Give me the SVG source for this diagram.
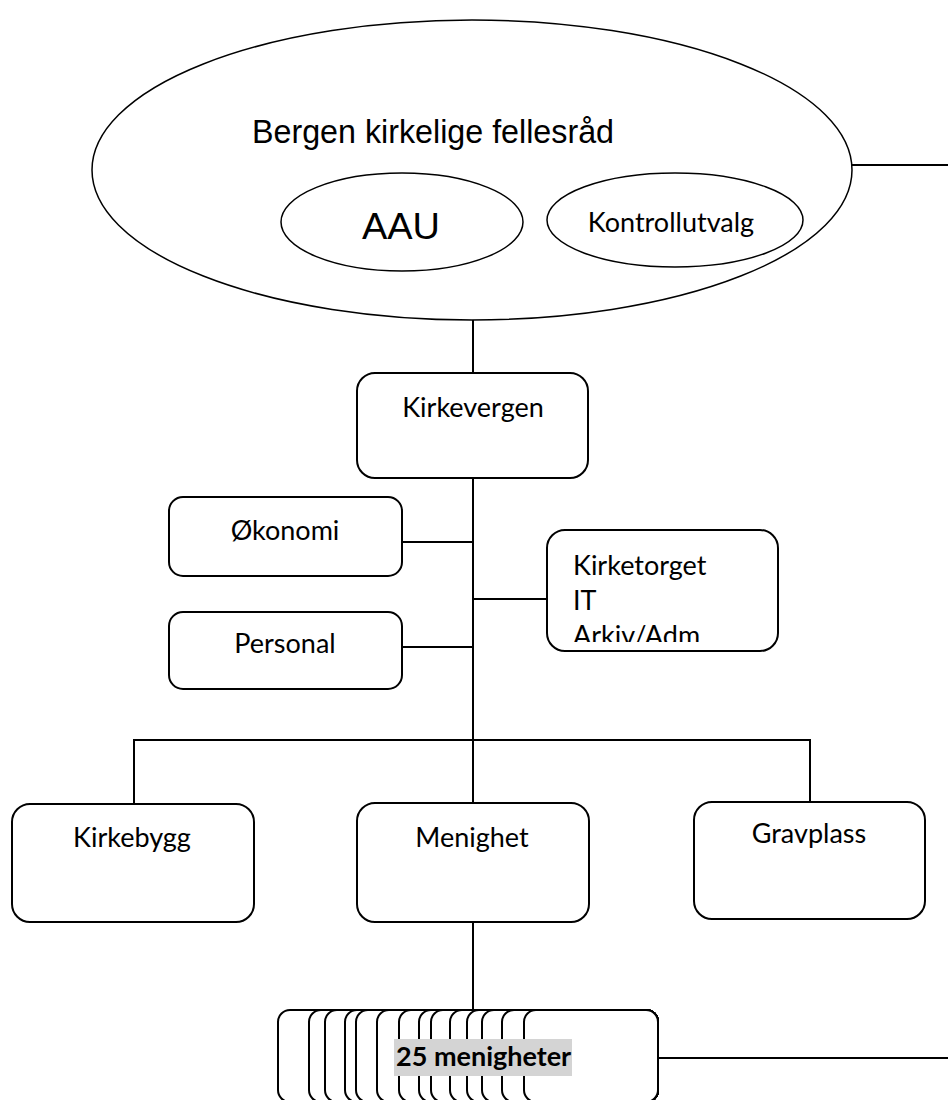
<svg xmlns="http://www.w3.org/2000/svg" width="948" height="1100" viewBox="0 0 948 1100">
<style>
.shape{fill:#fff;stroke:#000;stroke-width:2}
.ell{fill:#fff;stroke:#000;stroke-width:1.5}
.line{stroke:#000;stroke-width:2;fill:none}
.t{font-family:Lato,"Liberation Sans",sans-serif;font-size:27px;fill:#000}
.a{font-family:"Liberation Sans",Arial,sans-serif;fill:#000}
</style>
<defs>
<clipPath id="clipKT"><rect x="548" y="531" width="229" height="111"/></clipPath>
</defs>
<rect width="948" height="1100" fill="#fff"/>
<g id="connectors">
<line class="line" x1="852" y1="165" x2="948" y2="165"/>
<line class="line" x1="473" y1="320" x2="473" y2="373"/>
<line class="line" x1="473" y1="478" x2="473" y2="803"/>
<line class="line" x1="402" y1="542" x2="473" y2="542"/>
<line class="line" x1="402" y1="647" x2="473" y2="647"/>
<line class="line" x1="473" y1="599" x2="547" y2="599"/>
<polyline class="line" points="134,804 134,740 810,740 810,802"/>
<line class="line" x1="473" y1="922" x2="473" y2="1010"/>
<line class="line" x1="658" y1="1058" x2="948" y2="1058"/>
</g>
<g id="fellesrad">
<ellipse class="ell" cx="472" cy="170" rx="380" ry="150"/>
<text class="a" x="252" y="143" font-size="34" textLength="362" lengthAdjust="spacingAndGlyphs">Bergen kirkelige fellesråd</text>
</g>
<g id="aau">
<ellipse class="ell" cx="402" cy="222" rx="121" ry="49"/>
<text class="a" x="401" y="239" font-size="37" textLength="78" lengthAdjust="spacingAndGlyphs" text-anchor="middle">AAU</text>
</g>
<g id="kontrollutvalg">
<ellipse class="ell" cx="675" cy="220" rx="128" ry="47"/>
<text class="t" x="671" y="232" text-anchor="middle">Kontrollutvalg</text>
</g>
<g id="kirkevergen">
<rect class="shape" x="357" y="373" width="231" height="105" rx="18"/>
<text class="t" x="473" y="417" text-anchor="middle">Kirkevergen</text>
</g>
<g id="okonomi">
<rect class="shape" x="169" y="497" width="233" height="79" rx="14"/>
<text class="t" x="285" y="540" text-anchor="middle">Økonomi</text>
</g>
<g id="personal">
<rect class="shape" x="169" y="612" width="233" height="77" rx="14"/>
<text class="t" x="285" y="653" text-anchor="middle">Personal</text>
</g>
<g id="kirketorget">
<rect class="shape" x="547" y="530" width="231" height="121" rx="18"/>
<g clip-path="url(#clipKT)">
<text class="t" x="573" y="575">Kirketorget</text>
<text class="t" x="573" y="610">IT</text>
<text class="t" x="573" y="645">Arkiv/Adm</text>
</g>
</g>
<g id="kirkebygg">
<rect class="shape" x="12" y="804" width="242" height="118" rx="18"/>
<text class="t" x="132" y="847" text-anchor="middle">Kirkebygg</text>
</g>
<g id="menighet">
<rect class="shape" x="357" y="803" width="232" height="119" rx="18"/>
<text class="t" x="472" y="847" text-anchor="middle">Menighet</text>
</g>
<g id="gravplass">
<rect class="shape" x="694" y="802" width="231" height="117" rx="18"/>
<text class="t" x="809" y="843" text-anchor="middle">Gravplass</text>
</g>
<g id="menigheter">
<rect class="shape" x="278" y="1010" width="380" height="92" rx="12"/>
<rect class="shape" x="309" y="1010" width="349" height="92" rx="12"/>
<rect class="shape" x="325" y="1010" width="333" height="92" rx="12"/>
<rect class="shape" x="345" y="1010" width="313" height="92" rx="12"/>
<rect class="shape" x="356" y="1010" width="302" height="92" rx="12"/>
<rect class="shape" x="377" y="1010" width="281" height="92" rx="12"/>
<rect class="shape" x="399" y="1010" width="259" height="92" rx="12"/>
<rect class="shape" x="419" y="1010" width="239" height="92" rx="12"/>
<rect class="shape" x="431" y="1010" width="227" height="92" rx="12"/>
<rect class="shape" x="450" y="1010" width="208" height="92" rx="12"/>
<rect class="shape" x="467" y="1010" width="191" height="92" rx="12"/>
<rect class="shape" x="482" y="1010" width="176" height="92" rx="12"/>
<rect class="shape" x="502" y="1010" width="156" height="92" rx="12"/>
<rect class="shape" x="524" y="1010" width="134" height="92" rx="12"/>
<rect x="394" y="1039" width="178" height="37" fill="#d4d4d4"/>
<text class="t" x="396" y="1066" font-weight="bold">25 menigheter</text>
</g>
</svg>
